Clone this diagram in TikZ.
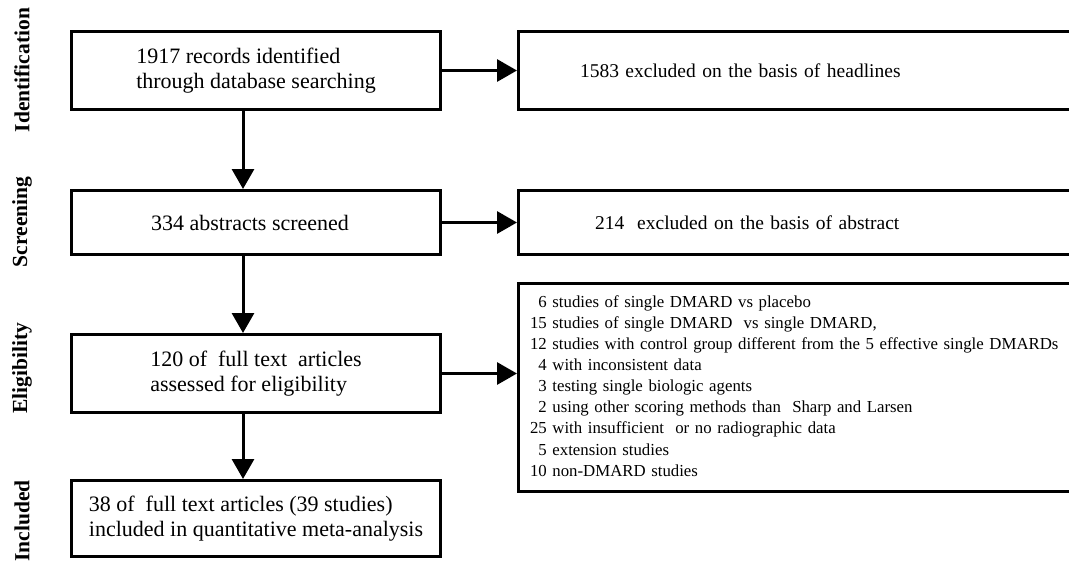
\documentclass[tikz,border=0pt]{standalone}
\usepackage{fontspec}
\setmainfont{Liberation Serif}
\usetikzlibrary{arrows.meta}

\tikzstyle{stagebox}=[draw, line width=3pt, align=left, inner sep=0pt, font=\fontsize{22}{25}\selectfont]
\tikzstyle{exclbox}=[draw, line width=3pt, anchor=west, align=left, text width=560pt, inner ysep=0pt, font=\fontsize{19.5}{24}\selectfont]
\tikzstyle{flowline}=[line width=3pt, -{Triangle[length=20pt, width=22pt]}]
\tikzstyle{stagelabel}=[rotate=90, inner sep=0pt, font=\bfseries\fontsize{21.5}{25}\selectfont]

\begin{document}
\begin{tikzpicture}[x=1pt, y=-1pt]
  \clip (0,0) rectangle (1069,563);
  % stage names
  \node[stagelabel] (ident) at (22,70) {Identification};
  \node[stagelabel] (screen) at (22,222) {Screening};
  \node[stagelabel] (elig) at (22,368) {Eligibility};
  \node[stagelabel] (incl) at (22,521) {Included};
  % main column
  \node[stagebox, minimum width=369pt, minimum height=78pt] (B1) at (256,70.5)
    {1917 records identified\\through database searching};
  \node[stagebox, minimum width=369pt, minimum height=64pt] (B2) at (256,222.5)
    {334 abstracts screened\hspace*{12pt}};
  \node[stagebox, minimum width=369pt, minimum height=78pt] (B3) at (256,373.5)
    {120 of \ full text \ articles\\assessed for eligibility};
  \node[stagebox, minimum width=369pt, minimum height=76pt] (B4) at (256,518.5)
    {38 of \ full text articles (39 studies)\\included in quantitative meta-analysis};
  % excluded records
  \node[exclbox, inner xsep=61.5pt, minimum height=78pt] (E1) at (517,70.5)
    {1583 excluded on the basis of headlines};
  \node[exclbox, inner xsep=76.5pt, minimum height=64pt] (E2) at (517,222.5)
    {214 \ excluded on the basis of abstract};
  \node[exclbox, inner xsep=11.5pt, minimum height=208pt, font=\fontsize{16.8}{21.1}\selectfont] (E3) at (517,387.5)
    {\begin{tabular}{@{}r@{ }l@{}}
      6 & studies of single DMARD vs placebo\\
      15 & studies of single DMARD \ vs single DMARD,\\
      12 & studies with control group different from the 5 effective single DMARDs\\
      4 & with inconsistent data\\
      3 & testing single biologic agents\\
      2 & using other scoring methods than \ Sharp and Larsen\\
      25 & with insufficient \ or no radiographic data\\
      5 & extension studies\\
      10 & non-DMARD studies
    \end{tabular}};
  % arrows
  \draw[flowline] (B1) -- (E1);
  \draw[flowline] (B2) -- (E2);
  \draw[flowline] (B3.east) -- (B3.east -| E3.west);
  \draw[flowline] ([xshift=-13pt]B1.south) -- ([xshift=-13pt]B1.south |- B2.north);
  \draw[flowline] ([xshift=-13pt]B2.south) -- ([xshift=-13pt]B2.south |- B3.north);
  \draw[flowline] ([xshift=-13pt]B3.south) -- ([xshift=-13pt]B3.south |- B4.north);
\end{tikzpicture}
\end{document}
